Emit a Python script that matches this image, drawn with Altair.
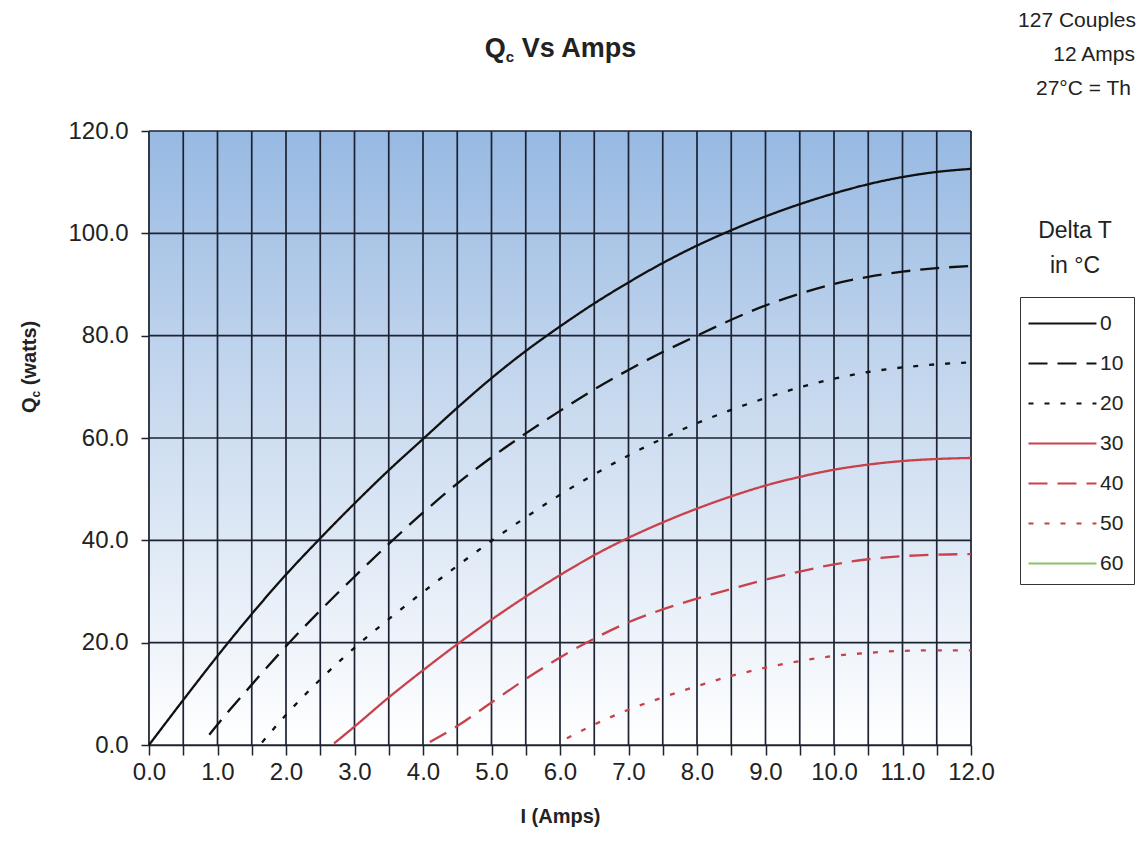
import altair as alt
import pandas as pd

# ---- data ----
delta_t = ["0", "10", "20", "30", "40", "50", "60"]

amps_0 = [0, 0.5, 1, 1.5, 2, 2.5, 3, 3.5, 4, 4.5, 5, 5.5, 6, 6.5, 7, 7.5, 8, 8.5, 9, 9.5, 10, 10.5, 11, 11.5, 12]
qc_0 = [0, 8.8, 17.4, 25.6, 33.3, 40.4, 47.2, 53.7, 59.8, 65.9, 71.7, 77.0, 81.8, 86.3, 90.4, 94.2, 97.6, 100.6,
        103.3, 105.7, 107.8, 109.6, 111.0, 112.0, 112.6]

amps_10 = [0.88, 1, 1.5, 2, 2.5, 3, 3.5, 4, 4.5, 5, 5.5, 6, 6.5, 7, 7.5, 8, 8.5, 9, 9.5, 10, 10.5, 11, 11.5, 12]
qc_10 = [2.0, 4.0, 11.8, 19.3, 26.3, 32.9, 39.3, 45.4, 51.1, 56.2, 60.9, 65.3, 69.5, 73.3, 76.8, 80.0, 83.1,
         85.9, 88.2, 90.1, 91.5, 92.5, 93.2, 93.6]

amps_20 = [1.65, 2, 2.5, 3, 3.5, 4, 4.5, 5, 5.5, 6, 6.5, 7, 7.5, 8, 8.5, 9, 9.5, 10, 10.5, 11, 11.5, 12]
qc_20 = [0.5, 5.9, 12.8, 19.0, 24.6, 29.9, 35.0, 39.9, 44.5, 48.9, 52.9, 56.6, 59.9, 62.9, 65.5, 67.8, 69.9,
         71.6, 72.9, 73.8, 74.4, 74.8]

amps_30 = [2.7, 3, 3.5, 4, 4.5, 5, 5.5, 6, 6.5, 7, 7.5, 8, 8.5, 9, 9.5, 10, 10.5, 11, 11.5, 12]
qc_30 = [0.3, 3.6, 9.3, 14.6, 19.7, 24.5, 29.0, 33.2, 37.1, 40.5, 43.5, 46.2, 48.6, 50.7, 52.4, 53.8, 54.8,
         55.5, 55.9, 56.1]

amps_40 = [4.1, 4.5, 5, 5.5, 6, 6.5, 7, 7.5, 8, 8.5, 9, 9.5, 10, 10.5, 11, 11.5, 12]
qc_40 = [0.6, 3.7, 8.3, 12.9, 17.1, 20.8, 24.0, 26.5, 28.6, 30.5, 32.3, 33.9, 35.3, 36.3, 36.9, 37.2, 37.3]

amps_50 = [6.1, 6.5, 7, 7.5, 8, 8.5, 9, 9.5, 10, 10.5, 11, 11.5, 12]
qc_50 = [1.3, 4.0, 6.9, 9.3, 11.5, 13.5, 15.1, 16.4, 17.4, 18.0, 18.4, 18.5, 18.5]

x_grid = [i * 0.5 for i in range(25)]
y_grid = [0, 20, 40, 60, 80, 100, 120]

series = [("0", amps_0, qc_0), ("10", amps_10, qc_10), ("20", amps_20, qc_20),
          ("30", amps_30, qc_30), ("40", amps_40, qc_40), ("50", amps_50, qc_50)]
rows = []
for name, xs, ys in series:
    for a, q in zip(xs, ys):
        rows.append({"amps": a, "qc": q, "dt": name})
df = pd.DataFrame(rows)

W, H = 822, 614
FONT = "Liberation Sans"
TXT = "#222222"
GRID = "#1c2231"

line_colors = ["#111111", "#111111", "#111111", "#c8414b", "#c8414b", "#c8414b", "#8cc36a"]
line_dashes = [[1, 0], [19, 10], [5, 11], [1, 0], [19, 10], [5, 11], [1, 0]]

# legend symbol: a horizontal stroke drawn with a custom path so the row height stays small
SYM = 30
legend = alt.Legend(
    title=None, orient="none", legendX=871, legendY=166,
    symbolType="M-1.2,0H3.33", symbolSize=SYM * SYM, symbolStrokeWidth=2.2,
    labelFontSize=21, labelFont=FONT, labelColor=TXT, labelOffset=37,
    rowPadding=13, padding=10, strokeColor="#333333", fillColor="#ffffff",
)

x_axis = alt.Axis(
    values=x_grid, labelExpr="datum.value % 1 == 0 ? format(datum.value, '.1f') : ''",
    labelOverlap=False, labelFlush=False, labelFontSize=24, labelFont=FONT, labelColor=TXT, labelPadding=5,
    tickSize=10, tickColor=GRID, tickWidth=1.5, domainColor=GRID, domainWidth=1.6, grid=False,
    title="I (Amps)", titleFontSize=20, titleFont=FONT, titleFontWeight="bold", titleColor=TXT,
    titlePadding=22,
)
y_axis = alt.Axis(
    values=y_grid, format=".1f", labelFontSize=24, labelFont=FONT, labelColor=TXT, labelPadding=13,
    labelFlush=False, tickSize=8, tickColor=GRID, tickWidth=1.5, domainColor=GRID, domainWidth=1.6,
    grid=False, title=None,
)

x_scale = alt.Scale(domain=[0, 12], nice=False, zero=False)
y_scale = alt.Scale(domain=[0, 120], nice=False, zero=False)

one = alt.Data(values=[{}])

background = alt.Chart(one).mark_rect(
    fill=alt.Gradient(
        gradient="linear", x1=0, x2=0, y1=0, y2=1,
        stops=[alt.GradientStop(color="#97b9e2", offset=0),
               alt.GradientStop(color="#c9daef", offset=0.45),
               alt.GradientStop(color="#ffffff", offset=1)],
    )
).encode(x=alt.value(0), x2=alt.value(W), y=alt.value(0), y2=alt.value(H))

vgrid = alt.Chart(pd.DataFrame({"g": x_grid})).mark_rule(color=GRID, strokeWidth=1.7).encode(
    x=alt.X("g:Q", scale=x_scale, axis=x_axis, title="I (Amps)"))
hgrid = alt.Chart(pd.DataFrame({"g": y_grid})).mark_rule(color=GRID, strokeWidth=1.7).encode(
    y=alt.Y("g:Q", scale=y_scale, axis=y_axis, title=None))

lines = alt.Chart(df).mark_line(strokeWidth=2.3, interpolate="monotone").encode(
    x=alt.X("amps:Q", scale=x_scale, axis=x_axis, title="I (Amps)"),
    y=alt.Y("qc:Q", scale=y_scale, axis=y_axis, title=None),
    color=alt.Color("dt:N", scale=alt.Scale(domain=delta_t, range=line_colors), sort=delta_t, legend=legend),
    strokeDash=alt.StrokeDash("dt:N", scale=alt.Scale(domain=delta_t, range=line_dashes), sort=delta_t,
                              legend=legend),
    detail="dt:N",
)


def txt(text, x, y, size, weight="normal", align="left", angle=0, dx=0, dy=0):
    kw = dict(text=text, fontSize=size, fontWeight=weight, font=FONT, color=TXT, align=align,
              baseline="alphabetic", dx=dx, dy=dy)
    if angle:
        kw["angle"] = angle
    return alt.Chart(one).mark_text(**kw).encode(x=alt.value(x), y=alt.value(y))


# main title "Qc Vs Amps" with subscript c
TF = 27
SF = 15
title_w = 0.778 * TF + 0.556 * SF + 0.278 * TF + 4.279 * TF
tx, ty = 412 - title_w / 2, -74
title_parts = [
    txt("Q", tx, ty, TF, "bold"),
    txt("c", tx, ty, SF, "bold", dx=0.778 * TF, dy=5),
    txt("Vs Amps", tx, ty, TF, "bold", dx=0.778 * TF + 0.556 * SF + 0.278 * TF),
]

# y axis title "Qc (watts)" rotated, with subscript c
YF = 20
yx, yy = -113, 282
ytitle_parts = [
    txt("Q", yx, yy, YF, "bold", angle=270),
    txt("c", yx, yy, 12, "bold", angle=270, dx=0.778 * YF, dy=4),
    txt("(watts)", yx, yy, YF, "bold", angle=270, dx=0.778 * YF + 0.556 * 12 + 0.278 * YF),
]

notes = [
    txt("127 Couples", 987, -104, 21, align="right"),
    txt("12 Amps", 986, -70, 21, align="right"),
    txt("27°C = Th", 887, -36, 21),
    txt("Delta T", 926, 107, 23, align="center"),
    txt("in °C", 926, 142, 23, align="center"),
]

chart = alt.layer(background, vgrid, hgrid, lines, *title_parts, *ytitle_parts, *notes).properties(
    width=W, height=H,
    padding={"left": 141, "top": 123, "right": 165, "bottom": 90},
    autosize=alt.AutoSizeParams(type="none"),
).configure_view(stroke=GRID, strokeWidth=1.7).configure(font=FONT)

chart.save("out.html", embed_options={"renderer": "svg", "actions": False})
